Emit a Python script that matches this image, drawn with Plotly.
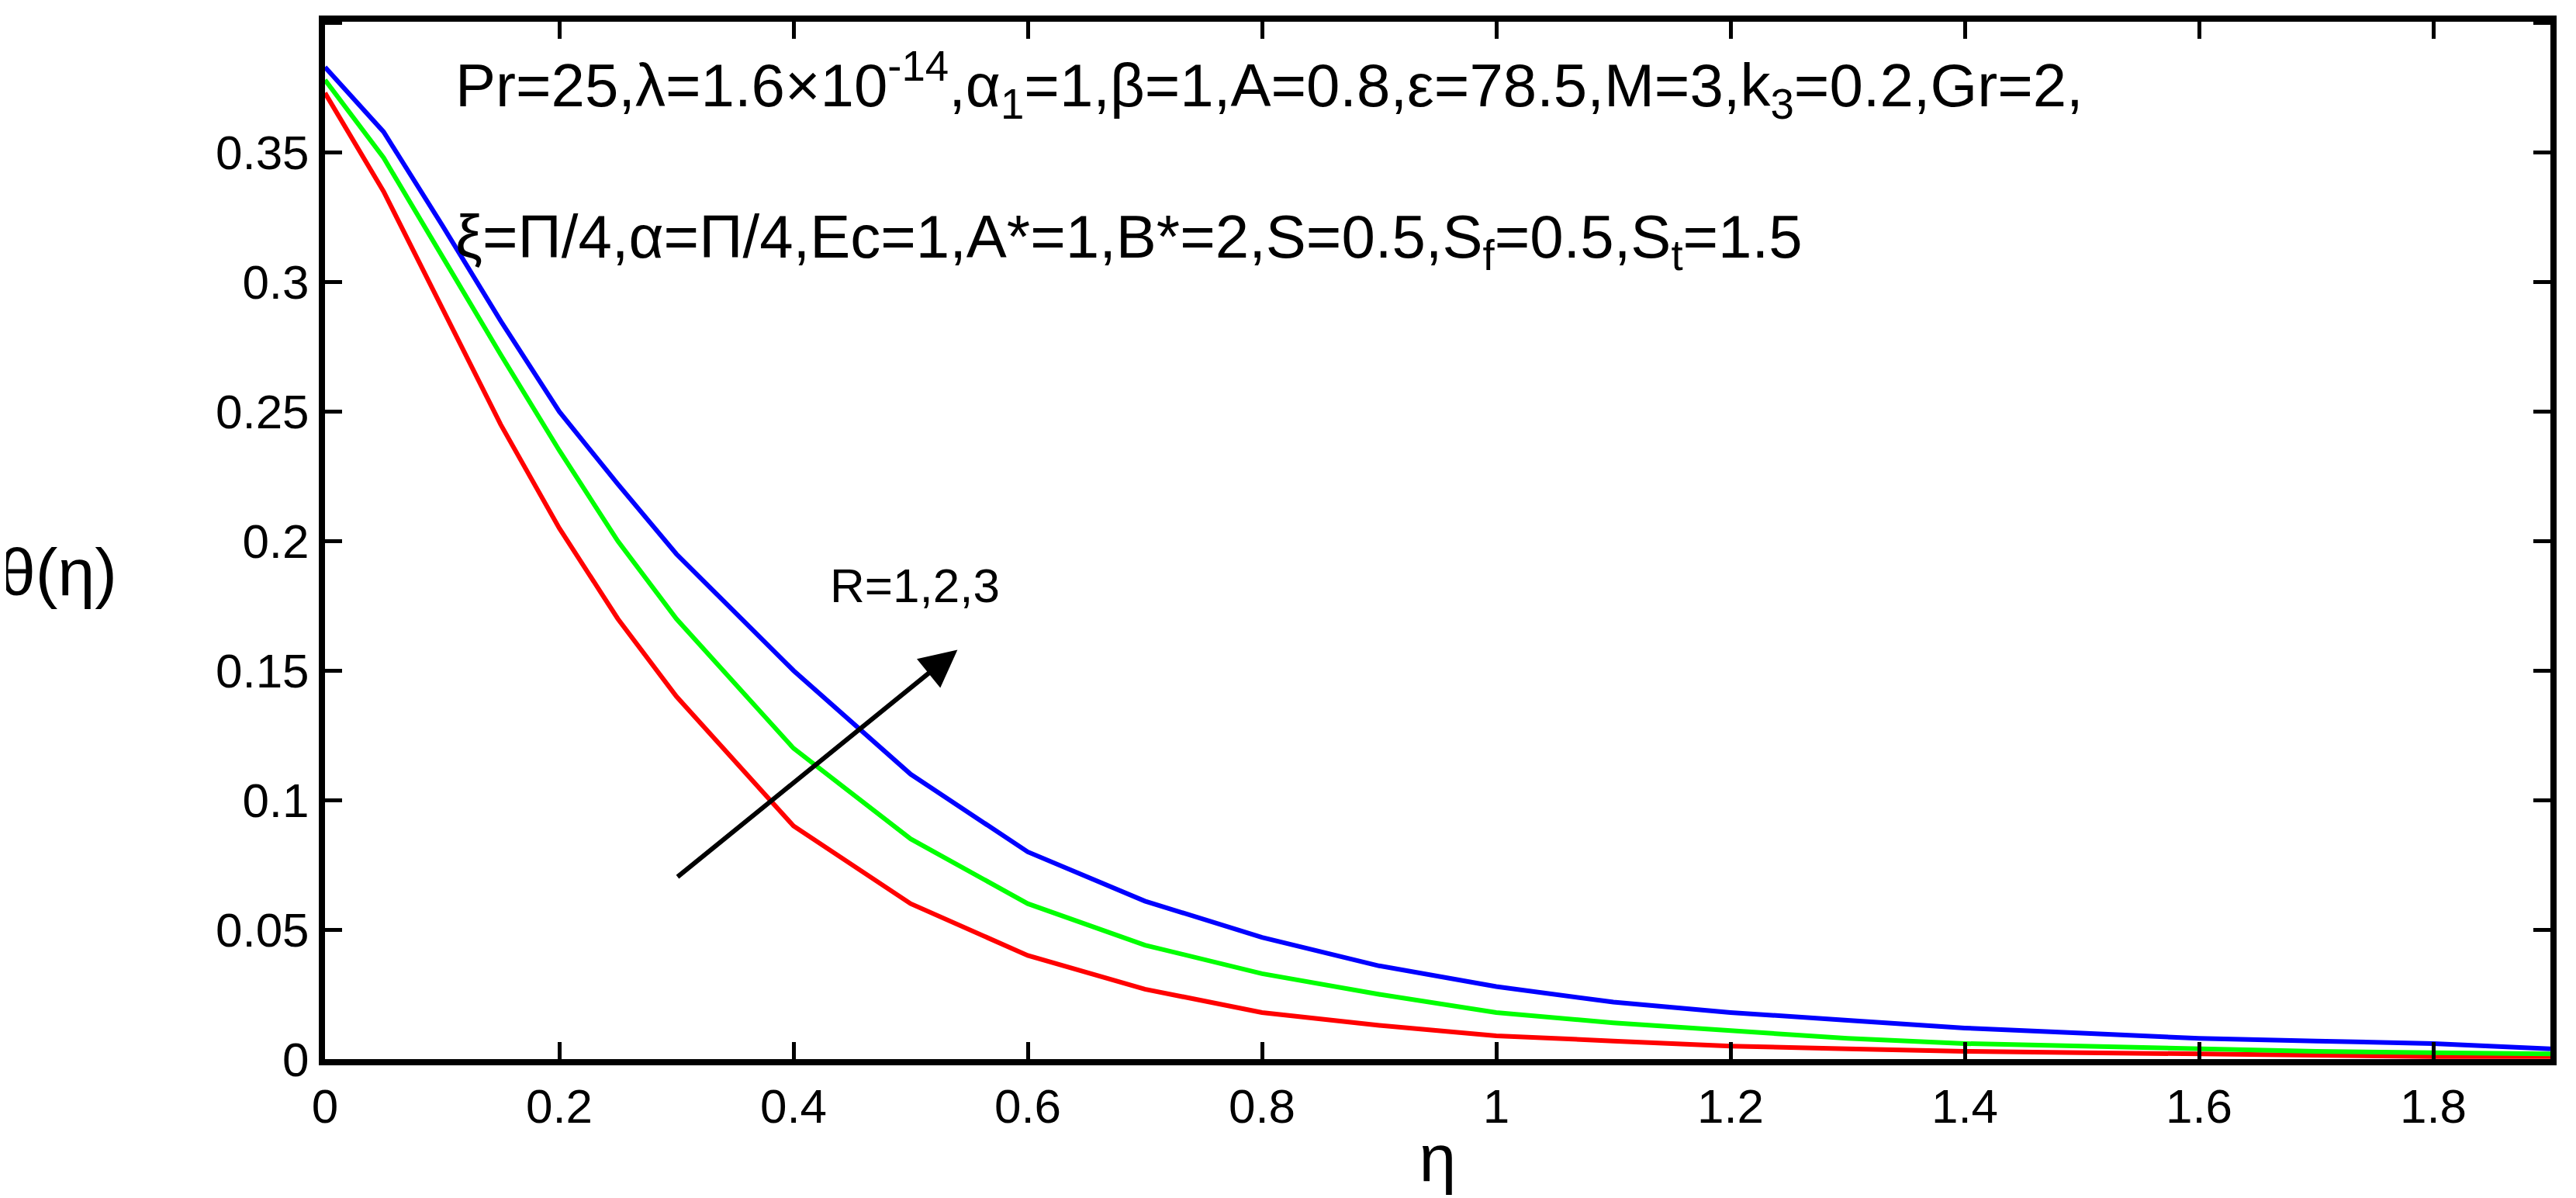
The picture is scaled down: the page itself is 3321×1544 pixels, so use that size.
import plotly.graph_objects as go

eta = [0, 0.05, 0.1, 0.15, 0.2, 0.25, 0.3, 0.4, 0.5, 0.6, 0.7, 0.8, 0.9, 1.0, 1.1, 1.2, 1.3, 1.4, 1.5, 1.6, 1.7, 1.8, 1.9]
theta_R1 = [0.373, 0.335, 0.290, 0.245, 0.205, 0.170, 0.140, 0.090, 0.060, 0.040, 0.027, 0.018, 0.013, 0.009, 0.007, 0.005, 0.004, 0.003, 0.0025, 0.002, 0.0015, 0.001, 0.001]
theta_R2 = [0.378, 0.348, 0.310, 0.272, 0.235, 0.200, 0.170, 0.120, 0.085, 0.060, 0.044, 0.033, 0.025, 0.018, 0.014, 0.011, 0.008, 0.006, 0.005, 0.004, 0.003, 0.0025, 0.002]
theta_R3 = [0.383, 0.358, 0.322, 0.285, 0.250, 0.222, 0.195, 0.150, 0.110, 0.080, 0.061, 0.047, 0.036, 0.028, 0.022, 0.018, 0.015, 0.012, 0.010, 0.008, 0.007, 0.006, 0.004]

fig = go.Figure()
for y, c in [(theta_R1, "red"), (theta_R2, "#00ff00"), (theta_R3, "blue")]:
    fig.add_trace(go.Scatter(x=eta, y=y, mode="lines", line=dict(color=c, width=6), showlegend=False))

font = dict(family="Arial, Liberation Sans", size=78, color="black")
fig.add_annotation(x=0.54, y=0.158, ax=0.3, ay=0.07, xref="x", yref="y", axref="x", ayref="y",
                   showarrow=True, arrowhead=2, arrowsize=1.6, arrowwidth=6, arrowcolor="black", text="")
fig.add_annotation(x=0.43, y=0.183, xref="x", yref="y", text="R=1,2,3", showarrow=False,
                   xanchor="left", font=dict(family="Arial, Liberation Sans", size=62, color="black"))
fig.add_annotation(x=0.11, y=0.376, xref="x", yref="y", showarrow=False, xanchor="left",
                   text="Pr=25,λ=1.6×10<sup>-14</sup>,α<sub>1</sub>=1,β=1,A=0.8,ε=78.5,M=3,k<sub>3</sub>=0.2,Gr=2,", font=font)
fig.add_annotation(x=0.11, y=0.316, xref="x", yref="y", showarrow=False, xanchor="left",
                   text="ξ=Π/4,α=Π/4,Ec=1,A*=1,B*=2,S=0.5,S<sub>f</sub>=0.5,S<sub>t</sub>=1.5", font=font)

ax = dict(showline=True, mirror="ticks", linecolor="black", linewidth=8, ticks="inside", ticklen=22,
          tickwidth=5, tickcolor="black", showgrid=False, zeroline=False,
          tickfont=dict(family="Arial, Liberation Sans", size=62, color="black"))
fig.update_xaxes(ax, range=[0, 1.9], tickvals=[0, 0.2, 0.4, 0.6, 0.8, 1, 1.2, 1.4, 1.6, 1.8],
                 ticktext=["0", "0.2", "0.4", "0.6", "0.8", "1", "1.2", "1.4", "1.6", "1.8"],
                 title=dict(text="η", font=dict(family="Arial", size=86, color="black"), standoff=5))
fig.update_yaxes(ax, range=[0, 0.4005], tickvals=[0, 0.05, 0.1, 0.15, 0.2, 0.25, 0.3, 0.35, 0.4],
                 ticktext=["0", "0.05", "0.1", "0.15", "0.2", "0.25", "0.3", "0.35", "0.4"])
fig.add_annotation(x=0.0, y=0.47, xref="paper", yref="paper", xanchor="center", xshift=0, text="θ(η)",
                   showarrow=False, font=dict(family="Arial", size=86, color="black"))
fig.update_layout(width=3321, height=1544, plot_bgcolor="white", paper_bgcolor="white",
                  margin=dict(l=411, r=41, t=17, b=187))
fig.layout.annotations[-1].update(x=-0.12)
fig.write_html("out.html")
